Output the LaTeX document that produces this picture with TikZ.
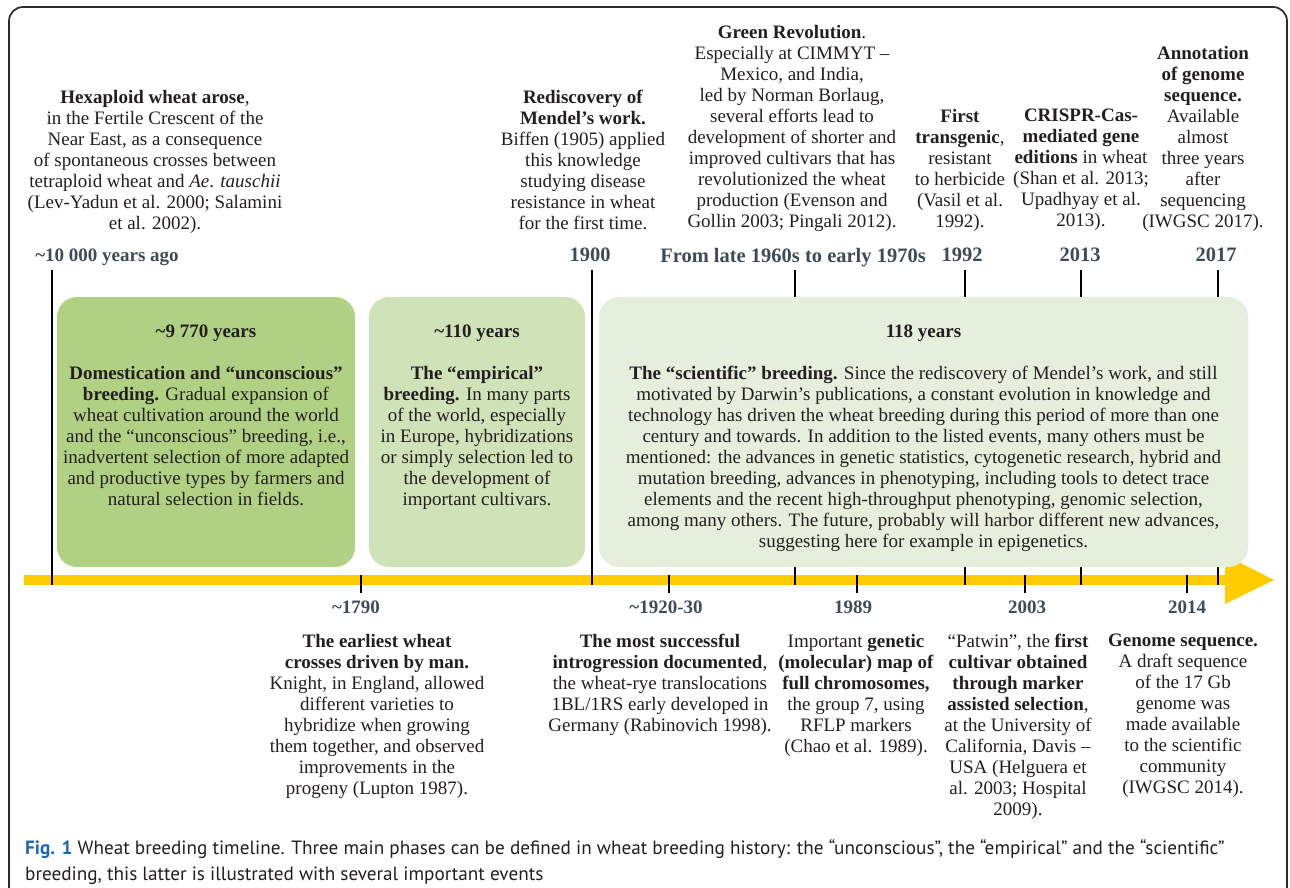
\documentclass[tikz,border=0pt]{standalone}
\usepackage{fontspec}
\setmainfont{Liberation Serif}
\newfontfamily\capfont{PT Sans}
\usetikzlibrary{positioning,calc}

\definecolor{wheatyellow}{HTML}{FFCC00}
\definecolor{phaseA}{HTML}{B0D183}
\definecolor{phaseB}{HTML}{D0E2B8}
\definecolor{phaseC}{HTML}{E6EFDB}
\definecolor{slate}{HTML}{3F4B55}
\definecolor{ink}{HTML}{231F20}
\definecolor{framegray}{HTML}{2B2B2B}
\definecolor{capblue}{HTML}{1F66B0}

\newcommand{\evtsize}{\fontsize{19}{21}\selectfont}
\newcommand{\topyrsize}{\fontsize{20.5}{22}\selectfont}
\newcommand{\capsize}{\fontsize{19.2}{26}\selectfont}

\begin{document}
\begin{tikzpicture}[x=1pt,y=-1pt]
\tikzset{evt/.style = {align=center, inner sep=0pt, anchor=north, font=\evtsize, text=ink},
         yearlab/.style = {inner sep=0pt, anchor=north, font=\evtsize\bfseries, text=slate},
         topyear/.style = {yearlab, font=\topyrsize\bfseries},
         phase/.style = {rounded corners=20pt, draw=none, inner sep=0pt, minimum height=270pt},
         tickline/.style = {draw=black, line width=1.1pt}}
\def\axtop{575}
\def\axbot{585}
\def\tickup{270}
\def\tickdown{593}
\useasboundingbox (0,0) rectangle (1290,887);
\draw[framegray, line width=1.7pt, rounded corners=14pt] (9,7) rectangle (1287,930);

% time axis
\coordinate (axL) at (24,580);
\coordinate (axR) at (1226,580);
\coordinate (tip) at (1274,580);
\fill[wheatyellow] (24,\axtop) rectangle (1226,\axbot);
\fill[wheatyellow] (1225,555) -- (tip) -- (1225,604) -- cycle;

% events above the axis
\coordinate (u1) at (52,\tickup);   \coordinate (u1b) at (52,\axbot);
\coordinate (u2) at (592,\tickup);  \coordinate (u2b) at (592,\axbot);
\coordinate (u3) at (795,\tickup);  \coordinate (u3b) at (795,\axbot);
\coordinate (u4) at (965,\tickup);  \coordinate (u4b) at (965,\axbot);
\coordinate (u5) at (1081,\tickup); \coordinate (u5b) at (1081,\axbot);
\coordinate (u6) at (1218,\tickup); \coordinate (u6b) at (1218,\axbot);
\draw[tickline] (u1) -- (u1b);
\draw[tickline] (u2) -- (u2b);
\draw[tickline] (u3) -- (u3b);
\draw[tickline] (u4) -- (u4b);
\draw[tickline] (u5) -- (u5b);
\draw[tickline] (u6) -- (u6b);

% events below the axis
\coordinate (d1) at (361,\axtop);  \coordinate (d1b) at (361,\tickdown);
\coordinate (d2) at (669,\axtop);  \coordinate (d2b) at (669,\tickdown);
\coordinate (d3) at (857,\axtop);  \coordinate (d3b) at (857,\tickdown);
\coordinate (d4) at (1025,\axtop); \coordinate (d4b) at (1025,\tickdown);
\coordinate (d5) at (1187,\axtop); \coordinate (d5b) at (1187,\tickdown);
\draw[tickline] (d1) -- (d1b);
\draw[tickline] (d2) -- (d2b);
\draw[tickline] (d3) -- (d3b);
\draw[tickline] (d4) -- (d4b);
\draw[tickline] (d5) -- (d5b);

% the three phases
\node[phase, fill=phaseA, minimum width=298pt] (unconsc) at (206,432) {};
\node[phase, fill=phaseB, minimum width=216pt] (empir) at (477,432) {};
\node[phase, fill=phaseC, minimum width=649pt] (scient) at (923.5,432) {};

\node[yearlab, text=ink] (unconscT) at (206,325) {\textasciitilde9 770 years};
\node[evt] (unconscB) at (206,366) {\textbf{Domestication and “unconscious”}\\
  \textbf{breeding.} Gradual expansion of\\ wheat cultivation around the world\\
  and the “unconscious” breeding, i.e.,\\ inadvertent selection of more adapted\\
  and productive types by farmers and\\ natural selection in fields.};
\node[yearlab, text=ink] (empirT) at (477,325) {\textasciitilde110 years};
\node[evt] (empirB) at (477,366) {\textbf{The “empirical”}\\
  \textbf{breeding.} In many parts\\ of the world, especially\\ in Europe, hybridizations\\
  or simply selection led to\\ the development of\\ important cultivars.};
\node[yearlab, text=ink] (scientT) at (923.5,325) {118 years};
\node[evt] (scientB) at (923.5,366) {\textbf{The “scientific” breeding.} Since the rediscovery of Mendel’s work, and still\\
  motivated by Darwin’s publications, a constant evolution in knowledge and\\
  technology has driven the wheat breeding during this period of more than one\\
  century and towards. In addition to the listed events, many others must be\\
  mentioned: the advances in genetic statistics, cytogenetic research, hybrid and\\
  mutation breeding, advances in phenotyping, including tools to detect trace\\
  elements and the recent high-throughput phenotyping, genomic selection,\\
  among many others. The future, probably will harbor different new advances,\\
  suggesting here for example in epigenetics.};

% labels above
\node[yearlab] (y1) at (107,249) {\textasciitilde10 000 years ago};
\node[topyear] (y2) at (590,248) {1900};
\node[topyear] (y3) at (793,248) {From late 1960s to early 1970s};
\node[topyear] (y4) at (962,248) {1992};
\node[topyear] (y5) at (1080,248) {2013};
\node[topyear] (y6) at (1216,248) {2017};

\node[evt] (hexa) at (155,90) {\textbf{Hexaploid wheat arose},\\ in the Fertile Crescent of the\\
  Near East, as a consequence\\ of spontaneous crosses between\\
  tetraploid wheat and \textit{Ae}. \textit{tauschii}\\ (Lev-Yadun et al. 2000; Salamini\\ et al. 2002).};
\node[evt] (mendel) at (583,90) {\textbf{Rediscovery of}\\ \textbf{Mendel’s work.}\\ Biffen (1905) applied\\
  this knowledge\\ studying disease\\ resistance in wheat\\ for the first time.};
\node[evt] (greenrev) at (792,25) {\textbf{Green Revolution}.\\ Especially at CIMMYT –\\ Mexico, and India,\\
  led by Norman Borlaug,\\ several efforts lead to\\ development of shorter and\\
  improved cultivars that has\\ revolutionized the wheat\\ production (Evenson and\\ Gollin 2003; Pingali 2012).};
\node[evt] (transg) at (960,109) {\textbf{First}\\ \textbf{transgenic},\\ resistant\\ to herbicide\\ (Vasil et al.\\ 1992).};
\node[evt] (crispr) at (1081,109) {\textbf{CRISPR-Cas-}\\ \textbf{mediated gene}\\ \textbf{editions} in wheat\\
  (Shan et al. 2013;\\ Upadhyay et al.\\ 2013).};
\node[evt] (annot) at (1203,46) {\textbf{Annotation}\\ \textbf{of genome}\\ \textbf{sequence.}\\ Available\\ almost\\
  three years\\ after\\ sequencing\\ (IWGSC 2017).};

% labels below
\node[yearlab] (z1) at (356,601) {\textasciitilde1790};
\node[yearlab] (z2) at (666,601) {\textasciitilde1920-30};
\node[yearlab] (z3) at (853,601) {1989};
\node[yearlab] (z4) at (1027,601) {2003};
\node[yearlab] (z5) at (1187,601) {2014};

\node[evt] (crosses) at (377,634) {\textbf{The earliest wheat}\\ \textbf{crosses driven by man.}\\
  Knight, in England, allowed\\ different varieties to\\ hybridize when growing\\
  them together, and observed\\ improvements in the\\ progeny (Lupton 1987).};
\node[evt] (introg) at (660,634) {\textbf{The most successful}\\ \textbf{introgression documented},\\
  the wheat-rye translocations\\ 1BL/1RS early developed in\\ Germany (Rabinovich 1998).};
\node[evt] (genmap) at (856,634) {Important \textbf{genetic}\\ \textbf{(molecular) map of}\\ \textbf{full chromosomes,}\\
  the group 7, using\\ RFLP markers\\ (Chao et al. 1989).};
\node[evt] (patwin) at (1018,634) {“Patwin”, the \textbf{first}\\ \textbf{cultivar obtained}\\ \textbf{through marker}\\
  \textbf{assisted selection},\\ at the University of\\ California, Davis –\\ USA (Helguera et\\ al. 2003; Hospital\\ 2009).};
\node[evt] (genome) at (1183,634) {\textbf{Genome sequence.}\\ A draft sequence\\ of the 17 Gb\\ genome was\\
  made available\\ to the scientific\\ community\\ (IWGSC 2014).};

% caption
\node[align=left, anchor=north west, inner sep=0pt, font=\capfont\capsize, text=ink] (caption) at (25,839)
  {\textcolor{capblue}{\bfseries Fig. 1} Wheat breeding timeline. Three main phases can be defined in wheat breeding history: the “unconscious”, the “empirical” and the “scientific”\\
  breeding, this latter is illustrated with several important events};
\end{tikzpicture}
\end{document}
